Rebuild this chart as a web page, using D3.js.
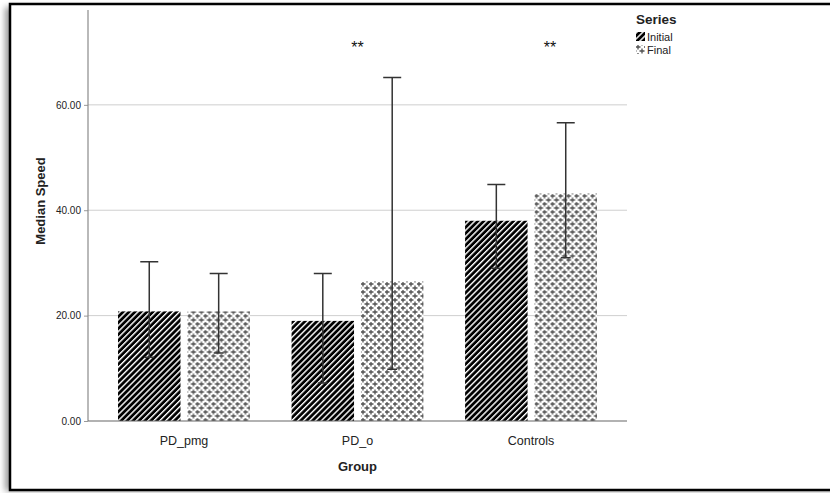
<!DOCTYPE html>
<html>
<head>
<meta charset="utf-8">
<script src="https://cdn.jsdelivr.net/npm/d3@7"></script>
<style>
  body { margin: 0; background: #fff; }
  svg { font-family: "Liberation Sans", Arial, sans-serif; display: block; }
</style>
</head>
<body>
<div id="chart"></div>
<script>
    // data
    var groups = ["PD_pmg", "PD_o", "Controls"];
    var series = ["Initial", "Final"];
    var medians = [[20.8, 20.8], [19.0, 26.5], [38.0, 43.2]];
    var lows = [[12.1, 12.9], [7.2, 9.8], [29.0, 31.0]];
    var highs = [[30.2, 28.0], [28.0, 65.2], [44.9, 56.6]];
    var yTicks = [0, 20, 40, 60];
    var stars = [{group: "PD_o", label: "**", dx: 0}, {group: "Controls", label: "**", dx: 19}];

    var width = 830, height = 493;
    var margin = {top: 10, right: 203, bottom: 72, left: 88};
    var chartWidth = width - margin.left - margin.right;
    var chartHeight = height - margin.top - margin.bottom;

    var svg = d3.select('#chart').append('svg')
        .attr('width', width)
        .attr('height', height);

    var defs = svg.append('defs');

    var shadow = defs.append('filter').attr('id', 'shadow')
        .attr('x', '-5%').attr('y', '-5%').attr('width', '110%').attr('height', '110%');
    shadow.append('feGaussianBlur').attr('stdDeviation', 3);

    // diagonal stripes for Initial
    var stripes = defs.append('pattern')
        .attr('id', 'stripes')
        .attr('patternUnits', 'userSpaceOnUse')
        .attr('width', 4.2).attr('height', 4.2)
        .attr('patternTransform', 'rotate(45)');
    stripes.append('rect').attr('width', 4.2).attr('height', 4.2).attr('fill', '#000');
    stripes.append('rect').attr('width', 1.4).attr('height', 4.2).attr('fill', '#fff');

    // small crosses for Final
    var crosses = defs.append('pattern')
        .attr('id', 'crosses')
        .attr('patternUnits', 'userSpaceOnUse')
        .attr('width', 8).attr('height', 8);
    crosses.append('rect').attr('width', 8).attr('height', 8).attr('fill', '#fff');
    [[2, 2], [6, 6], [6, -2], [-2, 6], [-2, -2]].forEach(function(c) {
        crosses.append('path')
            .attr('d', `M${c[0] - 2.5},${c[1]}h5M${c[0]},${c[1] - 2.5}v5`)
            .attr('stroke', '#505050').attr('stroke-width', 1.3);
    });

    var fills = {Initial: 'url(#stripes)', Final: 'url(#crosses)'};

    // frame with soft shadow
    svg.append('rect')
        .attr('x', 5).attr('y', 7).attr('width', 840).attr('height', 484)
        .attr('fill', '#999').attr('filter', 'url(#shadow)');
    svg.append('rect')
        .attr('x', 10).attr('y', 4).attr('width', 830).attr('height', 486)
        .attr('fill', '#fff').attr('stroke', '#000').attr('stroke-width', 2.5);

    var g = svg.append('g')
        .attr('transform', `translate(${margin.left}, ${margin.top})`);

    var yScale = d3.scaleLinear().domain([0, 78]).range([chartHeight, 0]);

    var x0 = d3.scaleBand().domain(groups).range([0, chartWidth])
        .paddingInner(0).paddingOuter(0.053);
    var x1 = d3.scaleBand().domain(series).range([0, x0.bandwidth()])
        .paddingInner(0.1).paddingOuter(0.3);

    // gridlines
    g.append('g').selectAll('line')
        .data(yTicks.filter(function(d) { return d > 0; }))
        .enter().append('line')
        .attr('x1', 0).attr('x2', chartWidth)
        .attr('y1', function(d) { return yScale(d); })
        .attr('y2', function(d) { return yScale(d); })
        .attr('stroke', '#cfcfcf').attr('stroke-width', 1);

    var yAxis = d3.axisLeft(yScale)
        .tickValues(yTicks)
        .tickFormat(d3.format('.2f'))
        .tickSize(4)
        .tickPadding(3);

    var ya = g.append('g').attr('class', 'y axis').call(yAxis);
    ya.select('.domain').remove();
    ya.selectAll('.tick line').attr('stroke', '#999');
    ya.selectAll('.tick text').attr('font-size', 10).attr('fill', '#222');
    g.append('line')
        .attr('x1', 0).attr('x2', 0).attr('y1', 0).attr('y2', chartHeight)
        .attr('stroke', '#8a8a8a').attr('stroke-width', 1.2);

    // bars
    var rows = [];
    groups.forEach(function(gr, i) {
        series.forEach(function(s, j) {
            rows.push({group: gr, series: s, value: medians[i][j], lo: lows[i][j], hi: highs[i][j]});
        });
    });

    var bars = g.append('g').selectAll('g')
        .data(rows)
        .enter().append('g')
        .attr('transform', function(d) { return `translate(${x0(d.group) + x1(d.series)},0)`; });

    bars.append('rect')
        .attr('y', function(d) { return yScale(d.value); })
        .attr('width', x1.bandwidth())
        .attr('height', function(d) { return chartHeight - yScale(d.value); })
        .attr('fill', function(d) { return fills[d.series]; });

    // error bars
    var cx = x1.bandwidth() / 2, cap = 9;
    bars.append('path')
        .attr('d', function(d) {
            return `M${cx},${yScale(d.lo)}V${yScale(d.hi)}M${cx - cap},${yScale(d.hi)}h${cap * 2}M${cx - 5},${yScale(d.lo)}h10`;
        })
        .attr('stroke', '#333').attr('stroke-width', 1.5).attr('fill', 'none');

    // x axis
    g.append('line')
        .attr('x1', 0).attr('x2', chartWidth)
        .attr('y1', chartHeight).attr('y2', chartHeight)
        .attr('stroke', '#666').attr('stroke-width', 1.2);

    g.append('g').selectAll('text')
        .data(groups)
        .enter().append('text')
        .attr('x', function(d) { return x0(d) + x0.bandwidth() / 2; })
        .attr('y', chartHeight + 24)
        .attr('text-anchor', 'middle')
        .attr('font-size', 12.5).attr('fill', '#222')
        .text(function(d) { return d; });

    // significance marks
    g.append('g').selectAll('text')
        .data(stars)
        .enter().append('text')
        .attr('x', function(d) { return x0(d.group) + x0.bandwidth() / 2 + d.dx; })
        .attr('y', yScale(69.8))
        .attr('text-anchor', 'middle')
        .attr('font-size', 16).attr('fill', '#111')
        .text(function(d) { return d.label; });

    // axis titles
    svg.append('text')
        .attr('x', margin.left + chartWidth / 2)
        .attr('y', 471)
        .attr('text-anchor', 'middle')
        .attr('font-size', 13).attr('font-weight', 'bold').attr('fill', '#222')
        .text('Group');

    svg.append('text')
        .attr('transform', 'translate(45, 201) rotate(-90)')
        .attr('text-anchor', 'middle')
        .attr('font-size', 13).attr('font-weight', 'bold').attr('fill', '#222')
        .text('Median Speed');

    // legend
    var legend = svg.append('g').attr('transform', 'translate(636, 0)');
    legend.append('text')
        .attr('x', 0).attr('y', 24)
        .attr('font-size', 13.5).attr('font-weight', 'bold').attr('fill', '#222')
        .text('Series');
    var items = legend.selectAll('g.item')
        .data(series)
        .enter().append('g')
        .attr('class', 'item')
        .attr('transform', function(d, i) { return `translate(0, ${32 + i * 13})`; });
    items.append('rect')
        .attr('width', 9).attr('height', 9)
        .attr('fill', function(d) { return fills[d]; });
    items.append('text')
        .attr('x', 11).attr('y', 8.5)
        .attr('font-size', 11).attr('fill', '#222')
        .text(function(d) { return d; });
</script>
</body>
</html>
